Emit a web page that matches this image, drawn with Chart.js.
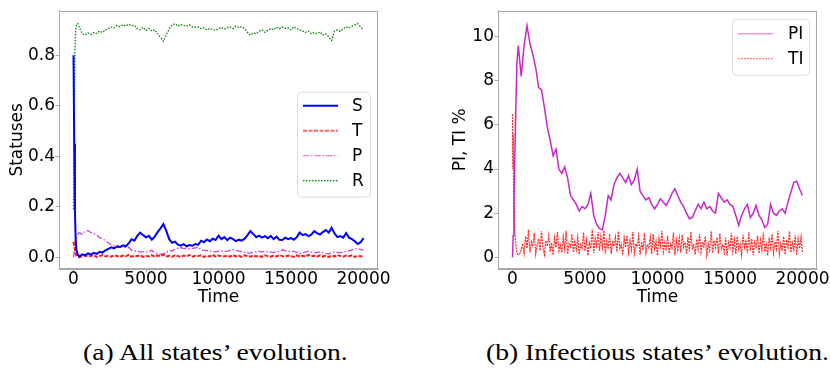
<!DOCTYPE html>
<html>
<head>
<meta charset="utf-8">
<script src="https://cdn.jsdelivr.net/npm/chart.js@4.4.0/dist/chart.umd.min.js"></script>
<style>
  body { margin: 0; background: #fff; width: 830px; height: 371px; position: relative; overflow: hidden; }
  .panel { position: absolute; top: 0; width: 415px; height: 310px; }
  .caption { position: absolute; top: 340px; font-family: "Liberation Serif", serif; font-size: 23px; color: #000;
    white-space: nowrap; transform: scaleX(1.2); transform-origin: 0 0; }
</style>
</head>
<body>
<div class="panel" style="left:0"><canvas id="left" width="415" height="310"></canvas></div>
<div class="panel" style="left:415px"><canvas id="right" width="415" height="310"></canvas></div>
<div class="caption" style="left:83px">(a) All states’ evolution.</div>
<div class="caption" style="left:486px">(b) Infectious states’ evolution.</div>
<script>
// time steps shared by S, T, P, R and PI
const times = [0, 50, 100, 150, 200, 300, 400,
  600, 800, 1000, 1200, 1400, 1600, 1800, 2000, 2200, 2400,
  2600, 2800, 3000, 3200, 3400, 3600, 3800, 4000, 4200, 4400,
  4600, 4800, 5000, 5200, 5400, 5600, 5800, 6000, 6200, 6400,
  6600, 6800, 7000, 7200, 7400, 7600, 7800, 8000, 8200, 8400,
  8600, 8800, 9000, 9200, 9400, 9600, 9800, 10000, 10200, 10400,
  10600, 10800, 11000, 11200, 11400, 11600, 11800, 12000, 12200, 12400,
  12600, 12800, 13000, 13200, 13400, 13600, 13800, 14000, 14200, 14400,
  14600, 14800, 15000, 15200, 15400, 15600, 15800, 16000, 16200, 16400,
  16600, 16800, 17000, 17200, 17400, 17600, 17800, 18000, 18200, 18400,
  18600, 18800, 19000, 19200, 19400, 19600, 19800, 20000];

const sValues = [0.80, 0.45, 0.18, 0.07, 0.03, 0.01, 0.003,
  0.012, 0.008, 0.016, 0.011, 0.018, 0.014, 0.022, 0.019, 0.028, 0.034,
  0.040, 0.036, 0.043, 0.041, 0.048, 0.044, 0.055, 0.072, 0.066, 0.085,
  0.098, 0.088, 0.079, 0.085, 0.070, 0.082, 0.100, 0.115, 0.132, 0.105,
  0.072, 0.058, 0.062, 0.050, 0.046, 0.052, 0.044, 0.049, 0.046, 0.053,
  0.050, 0.066, 0.060, 0.071, 0.064, 0.074, 0.069, 0.086, 0.072, 0.080,
  0.068, 0.078, 0.072, 0.064, 0.070, 0.066, 0.074, 0.088, 0.104, 0.092,
  0.080, 0.086, 0.078, 0.084, 0.076, 0.085, 0.072, 0.082, 0.070, 0.069,
  0.078, 0.072, 0.076, 0.070, 0.080, 0.098, 0.088, 0.092, 0.084, 0.090,
  0.104, 0.096, 0.090, 0.100, 0.108, 0.098, 0.117, 0.095, 0.080, 0.084,
  0.078, 0.096, 0.078, 0.072, 0.064, 0.053, 0.060, 0.076];

const tValues = [0.062, 0.045, 0.030, 0.015, 0.008, 0.002, 0.001,
  0.004, 0.007, 0.003, 0.006, 0.008, 0.002, 0.005, 0.009, 0.004, 0.006,
  0.003, 0.008, 0.005, 0.002, 0.007, 0.004, 0.010, 0.003, 0.006, 0.005,
  0.008, 0.002, 0.006, 0.004, 0.009, 0.003, 0.007, 0.005, 0.011, 0.004,
  0.006, 0.003, 0.008, 0.005, 0.002, 0.007, 0.004, 0.009, 0.003, 0.006,
  0.005, 0.008, 0.002, 0.006, 0.004, 0.010, 0.003, 0.007, 0.005, 0.004,
  0.007, 0.003, 0.009, 0.004, 0.006, 0.002, 0.008, 0.005, 0.003, 0.007,
  0.004, 0.006, 0.002, 0.008, 0.005, 0.003, 0.007, 0.004, 0.009, 0.005,
  0.003, 0.007, 0.005, 0.002, 0.008, 0.004, 0.006, 0.003, 0.010, 0.005,
  0.006, 0.003, 0.008, 0.004, 0.005, 0.002, 0.007, 0.004, 0.009, 0.006,
  0.003, 0.007, 0.005, 0.008, 0.002, 0.006, 0.004, 0.005];

const pValues = [0.0, 0.02, 0.045, 0.065, 0.08, 0.092, 0.097,
  0.092, 0.103, 0.106, 0.098, 0.094, 0.088, 0.078, 0.074, 0.066, 0.058,
  0.050, 0.047, 0.048, 0.041, 0.040, 0.040, 0.040, 0.028, 0.026, 0.024,
  0.021, 0.023, 0.022, 0.023, 0.028, 0.017, 0.014, 0.012, 0.014, 0.020,
  0.028, 0.025, 0.034, 0.036, 0.038, 0.036, 0.035, 0.034, 0.036, 0.038,
  0.040, 0.030, 0.028, 0.027, 0.026, 0.024, 0.022, 0.025, 0.026, 0.024,
  0.024, 0.028, 0.031, 0.028, 0.025, 0.023, 0.020, 0.018, 0.017, 0.020,
  0.023, 0.024, 0.022, 0.024, 0.022, 0.021, 0.020, 0.021, 0.025, 0.030,
  0.026, 0.025, 0.023, 0.024, 0.020, 0.015, 0.018, 0.022, 0.024, 0.020,
  0.018, 0.020, 0.022, 0.018, 0.015, 0.014, 0.018, 0.022, 0.020, 0.019,
  0.020, 0.024, 0.026, 0.030, 0.034, 0.033, 0.032, 0.029];

const rValues = [0.19, 0.60, 0.83, 0.90, 0.92, 0.925, 0.91,
  0.885, 0.880, 0.888, 0.882, 0.890, 0.886, 0.895, 0.890, 0.900, 0.905,
  0.912, 0.908, 0.918, 0.913, 0.920, 0.915, 0.922, 0.917, 0.918, 0.905,
  0.900, 0.910, 0.898, 0.906, 0.895, 0.900, 0.885, 0.870, 0.855, 0.880,
  0.905, 0.918, 0.925, 0.915, 0.922, 0.918, 0.915, 0.920, 0.912, 0.910,
  0.912, 0.905, 0.908, 0.900, 0.906, 0.902, 0.898, 0.905, 0.910, 0.903,
  0.908, 0.912, 0.905, 0.915, 0.910, 0.912, 0.905, 0.890, 0.880, 0.888,
  0.885, 0.895, 0.900, 0.890, 0.898, 0.905, 0.900, 0.910, 0.905, 0.912,
  0.906, 0.908, 0.900, 0.912, 0.905, 0.900, 0.895, 0.890, 0.895, 0.885,
  0.890, 0.885, 0.892, 0.880, 0.885, 0.872, 0.858, 0.895, 0.900, 0.895,
  0.905, 0.912, 0.908, 0.915, 0.920, 0.925, 0.912, 0.900];

// PI in percent
const piValues = [0.0, 1.0, 2.4, 4.2, 5.8, 8.8, 9.6,
  8.2, 9.6, 10.5, 9.7, 9.2, 8.6, 7.7, 7.6, 6.8, 5.9,
  5.3, 4.6, 4.9, 4.0, 3.8, 4.1, 3.6, 2.8, 2.6, 2.4,
  2.1, 2.3, 2.2, 2.4, 2.9, 1.9, 1.5, 1.3, 1.25, 1.9,
  2.8, 2.6, 3.3, 3.6, 3.8, 3.6, 3.4, 3.7, 3.3, 3.5,
  4.0, 3.0, 2.8, 2.6, 2.7, 2.4, 2.2, 2.4, 2.65, 2.5,
  2.35, 2.6, 2.9, 3.1, 2.8, 2.5, 2.3, 2.0, 1.75, 1.8,
  2.1, 2.4, 2.2, 2.5, 2.2, 2.3, 2.1, 2.0, 2.9, 2.7,
  2.5, 2.6, 2.4, 2.3, 1.9, 1.45, 1.9, 2.2, 2.4, 1.8,
  2.0, 2.35, 1.9, 1.7, 1.35, 1.5, 2.4, 2.0, 1.9, 2.1,
  2.2, 2.0, 2.5, 2.95, 3.4, 3.45, 3.1, 2.8];

// TI in percent, on its own finer time grid
const tiTimes = [0, 25, 50, 75, 100, 150, 200, 300, 400, 500,
  600, 700, 800, 900, 1000, 1100, 1200, 1300, 1400, 1500, 1600, 1700, 1800, 1900, 2000, 2100, 2200, 2300, 2400, 2500,
  2600, 2700, 2800, 2900, 3000, 3100, 3200, 3300, 3400, 3500, 3600, 3700, 3800, 3900, 4000, 4100, 4200, 4300, 4400, 4500,
  4600, 4700, 4800, 4900, 5000, 5100, 5200, 5300, 5400, 5500, 5600, 5700, 5800, 5900, 6000, 6100, 6200, 6300, 6400, 6500,
  6600, 6700, 6800, 6900, 7000, 7100, 7200, 7300, 7400, 7500, 7600, 7700, 7800, 7900, 8000, 8100, 8200, 8300, 8400, 8500,
  8600, 8700, 8800, 8900, 9000, 9100, 9200, 9300, 9400, 9500, 9600, 9700, 9800, 9900, 10000, 10100, 10200, 10300, 10400, 10500,
  10600, 10700, 10800, 10900, 11000, 11100, 11200, 11300, 11400, 11500, 11600, 11700, 11800, 11900, 12000, 12100, 12200, 12300, 12400, 12500,
  12600, 12700, 12800, 12900, 13000, 13100, 13200, 13300, 13400, 13500, 13600, 13700, 13800, 13900, 14000, 14100, 14200, 14300, 14400, 14500,
  14600, 14700, 14800, 14900, 15000, 15100, 15200, 15300, 15400, 15500, 15600, 15700, 15800, 15900, 16000, 16100, 16200, 16300, 16400, 16500,
  16600, 16700, 16800, 16900, 17000, 17100, 17200, 17300, 17400, 17500, 17600, 17700, 17800, 17900, 18000, 18100, 18200, 18300, 18400, 18500,
  18600, 18700, 18800, 18900, 19000, 19100, 19200, 19300, 19400, 19500, 19600, 19700, 19800, 19900, 20000];

const tiValues = [6.5, 4.0, 5.6, 2.8, 2.5, 1.3, 0.8, 0.2, 0.12, 0.15,
  0.35, 0.62, 0.18, 0.95, 0.40, 1.25, 0.22, 0.70, 0.48, 1.10, 0.15, 0.58, 0.85, 0.30, 1.18, 0.42, 0.12, 0.75, 0.50, 0.98,
  0.25, 0.66, 0.10, 0.88, 0.45, 1.15, 0.30, 0.55, 0.20, 0.92, 0.38, 1.20, 0.15, 0.62, 0.48, 1.05, 0.22, 0.70, 0.35, 0.90,
  0.12, 0.58, 0.42, 1.12, 0.28, 0.78, 0.08, 0.65, 0.40, 1.28, 0.20, 0.85, 0.52, 1.15, 0.30, 0.95, 0.45, 1.22, 0.18, 0.72,
  0.38, 1.05, 0.15, 0.68, 0.50, 0.92, 0.25, 1.18, 0.40, 0.60, 0.10, 0.88, 0.45, 1.00, 0.22, 0.75, 0.35, 1.15, 0.18, 0.62,
  0.48, 0.95, 0.12, 0.70, 0.32, 1.10, 0.20, 0.58, 0.44, 0.90, 0.15, 1.05, 0.38, 0.72, 0.08, 0.85, 0.50, 1.20, 0.25, 0.65,
  0.30, 0.98, 0.18, 0.60, 0.42, 1.12, 0.10, 0.78, 0.35, 0.88, 0.22, 1.02, 0.46, 0.68, 0.14, 0.92, 0.28, 1.15, 0.40, 0.55,
  0.12, 0.82, 0.36, 1.05, 0.24, 0.70, 0.48, 0.95, 0.10, 0.62, 0.32, 1.18, 0.20, 0.75, 0.44, 0.90, 0.16, 1.08, 0.38, 0.58,
  0.22, 0.88, 0.08, 0.66, 0.42, 1.10, 0.28, 0.80, 0.15, 0.95, 0.36, 0.60, 0.12, 1.02, 0.45, 0.72, 0.20, 1.15, 0.30, 0.85,
  0.10, 0.68, 0.40, 0.98, 0.18, 0.78, 0.34, 1.12, 0.25, 0.58, 0.08, 0.90, 0.44, 1.05, 0.20, 0.70, 0.38, 1.20, 0.15, 0.62,
  0.30, 0.95, 0.12, 0.80, 0.46, 1.18, 0.22, 0.66, 0.35, 1.00, 0.10, 0.85, 0.40, 0.92, 0.20];

const xTicks = [0, 5000, 10000, 15000, 20000];
const leftTicks = [0, 0.2, 0.4, 0.6, 0.8];
const rightTicks = [0, 2, 4, 6, 8, 10];

const FONT = { family: 'DejaVu Sans', size: 17 };
const SPINE = '#a8a8a8';

function pairs(xs, ys) {
  return xs.map((x, i) => ({ x: x, y: ys[i] }));
}

// gray box round the plot area, like the matplotlib spines
const framePlugin = {
  id: 'frame',
  afterDatasetsDraw(chart) {
    const { ctx, chartArea } = chart;
    ctx.save();
    ctx.strokeStyle = SPINE;
    ctx.lineWidth = 1;
    ctx.strokeRect(Math.round(chartArea.left) + 0.5, Math.round(chartArea.top) + 0.5,
      Math.round(chartArea.width) - 1, Math.round(chartArea.height) - 1);
    ctx.restore();
  }
};

// legend drawn inside the plot, upper right
const boxLegendPlugin = {
  id: 'boxLegend',
  afterDraw(chart, args, opts) {
    const { ctx, chartArea } = chart;
    const x = chartArea.right - opts.right - opts.width;
    const y = chartArea.top + opts.top;
    ctx.save();
    ctx.fillStyle = 'rgba(255,255,255,0.8)';
    ctx.strokeStyle = '#dcdcdc';
    ctx.lineWidth = 1;
    ctx.beginPath();
    ctx.roundRect(x + 0.5, y + 0.5, opts.width, opts.height, 4);
    ctx.fill();
    ctx.stroke();
    ctx.font = FONT.size + 'px ' + FONT.family;
    ctx.textBaseline = 'middle';
    chart.data.datasets.forEach((ds, i) => {
      const cy = y + opts.first + i * opts.gap;
      ctx.strokeStyle = ds.legendColor || ds.borderColor;
      ctx.lineWidth = ds.borderWidth;
      ctx.setLineDash(ds.borderDash || []);
      ctx.beginPath();
      ctx.moveTo(x + 6, cy);
      ctx.lineTo(x + 41, cy);
      ctx.stroke();
      ctx.setLineDash([]);
      ctx.fillStyle = '#000';
      ctx.fillText(ds.label, x + opts.textX, cy + 1);
    });
    ctx.restore();
  }
};

function fixedTicks(list) {
  return scale => { scale.ticks = list.map(v => ({ value: v })); };
}

function axisX(min, max) {
  return {
    type: 'linear', min: min, max: max,
    afterBuildTicks: fixedTicks(xTicks),
    grid: { display: true, drawOnChartArea: false, drawTicks: true, tickLength: 3.5, color: SPINE },
    border: { display: true, color: SPINE },
    ticks: { color: '#000', font: FONT, padding: -3, maxRotation: 0, autoSkip: false,
      callback: v => String(v) },
    title: { display: true, text: 'Time', color: '#000', font: FONT, padding: { top: 0, bottom: 2 } },
    afterFit: s => { s.height = 41; }
  };
}

function axisY(min, max, list, digits, label, width, titlePad) {
  return {
    type: 'linear', min: min, max: max,
    afterBuildTicks: fixedTicks(list),
    grid: { display: true, drawOnChartArea: false, drawTicks: true, tickLength: 3.5, color: SPINE },
    border: { display: true, color: SPINE },
    ticks: { color: '#000', font: FONT, padding: 0.5, autoSkip: false,
      callback: v => v.toFixed(digits) },
    title: { display: true, text: label, color: '#000', font: FONT, padding: { top: titlePad, bottom: 0 } },
    afterFit: s => { s.width = width; }
  };
}

const baseOpts = {
  responsive: false,
  animation: false,
  elements: { point: { radius: 0 }, line: { tension: 0 } },
  plugins: { legend: { display: false }, tooltip: { enabled: false } }
};

new Chart(document.getElementById('left'), {
  type: 'line',
  data: {
    datasets: [
      { label: 'S', data: pairs(times, sValues), borderColor: '#0000ff', borderWidth: 2 },
      { label: 'T', data: pairs(times, tValues), borderColor: 'rgba(255,0,0,0.9)', borderWidth: 2, borderDash: [4, 1.5],
        legendColor: 'rgba(255,0,0,0.6)' },
      { label: 'P', data: pairs(times, pValues), borderColor: 'rgba(200,30,200,0.85)', borderWidth: 1.3, borderDash: [6, 2, 1.5, 2],
        legendColor: 'rgba(200,30,200,0.6)' },
      { label: 'R', data: pairs(times, rValues), borderColor: '#008000', borderWidth: 1.3, borderDash: [1.5, 1.5] }
    ]
  },
  options: {
    ...baseOpts,
    layout: { padding: { left: 0, right: 37, top: 2, bottom: 0 } },
    scales: {
      x: axisX(-1000, 21000),
      y: axisY(-0.046, 0.976, leftTicks, 1, 'Statuses', 59, 7)
    },
    plugins: {
      ...baseOpts.plugins,
      boxLegend: { right: 8, top: 81, width: 73, height: 105, first: 14, gap: 25, textX: 55 }
    }
  },
  plugins: [framePlugin, boxLegendPlugin]
});

new Chart(document.getElementById('right'), {
  type: 'line',
  data: {
    datasets: [
      { label: 'PI', data: pairs(times, piValues), borderColor: 'rgba(191,0,191,0.85)', borderWidth: 1.5,
        legendColor: 'rgba(191,0,191,0.4)' },
      { label: 'TI', data: pairs(tiTimes, tiValues), borderColor: 'rgba(255,0,0,0.85)', borderWidth: 1.2, borderDash: [2, 1],
        legendColor: 'rgba(255,0,0,0.5)' }
    ]
  },
  options: {
    ...baseOpts,
    layout: { padding: { left: 0, right: 13, top: 2, bottom: 0 } },
    scales: {
      x: axisX(-1000, 21000),
      y: axisY(-0.53, 11.18, rightTicks, 0, 'PI, TI %', 83, 35)
    },
    plugins: {
      ...baseOpts.plugins,
      boxLegend: { right: 8, top: 8, width: 77, height: 56, first: 15, gap: 25, textX: 56 }
    }
  },
  plugins: [framePlugin, boxLegendPlugin]
});
</script>
</body>
</html>
